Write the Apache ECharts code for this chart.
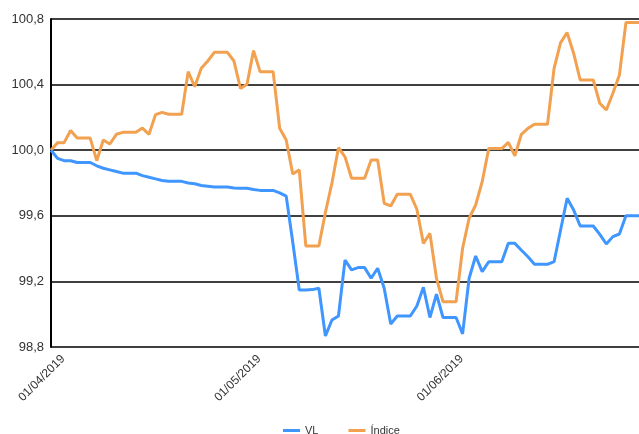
<!DOCTYPE html>
<html><head><meta charset="utf-8">
<script src="https://cdn.jsdelivr.net/npm/echarts@6/dist/echarts.min.js"></script>
<style>html,body{margin:0;padding:0;background:#fff}#c{width:639px;height:434px}</style>
</head><body><div id="c"></div>
<script>
const categories = [
"01/04/2019","02/04/2019","03/04/2019","04/04/2019","05/04/2019","06/04/2019","07/04/2019","08/04/2019","09/04/2019","10/04/2019",
"11/04/2019","12/04/2019","13/04/2019","14/04/2019","15/04/2019","16/04/2019","17/04/2019","18/04/2019","19/04/2019","20/04/2019",
"21/04/2019","22/04/2019","23/04/2019","24/04/2019","25/04/2019","26/04/2019","27/04/2019","28/04/2019","29/04/2019","30/04/2019",
"01/05/2019","02/05/2019","03/05/2019","04/05/2019","05/05/2019","06/05/2019","07/05/2019","08/05/2019","09/05/2019","10/05/2019",
"11/05/2019","12/05/2019","13/05/2019","14/05/2019","15/05/2019","16/05/2019","17/05/2019","18/05/2019","19/05/2019","20/05/2019",
"21/05/2019","22/05/2019","23/05/2019","24/05/2019","25/05/2019","26/05/2019","27/05/2019","28/05/2019","29/05/2019","30/05/2019",
"31/05/2019","01/06/2019","02/06/2019","03/06/2019","04/06/2019","05/06/2019","06/06/2019","07/06/2019","08/06/2019","09/06/2019",
"10/06/2019","11/06/2019","12/06/2019","13/06/2019","14/06/2019","15/06/2019","16/06/2019","17/06/2019","18/06/2019","19/06/2019",
"20/06/2019","21/06/2019","22/06/2019","23/06/2019","24/06/2019","25/06/2019","26/06/2019","27/06/2019","28/06/2019","29/06/2019",
"30/06/2019"];
const tickLabels = ["01/04/2019","01/05/2019","01/06/2019"];
const vl = [
100.0,99.95,99.936,99.936,99.925,99.925,99.925,99.905,99.89,99.88,
99.87,99.86,99.86,99.86,99.845,99.835,99.825,99.815,99.81,99.81,
99.81,99.80,99.795,99.785,99.78,99.775,99.775,99.775,99.77,99.768,
99.768,99.76,99.755,99.755,99.755,99.74,99.72,99.44,99.148,99.148,
99.15,99.158,98.867,98.965,98.989,99.33,99.27,99.284,99.284,99.219,
99.28,99.158,98.94,98.989,98.989,98.989,99.05,99.164,98.98,99.123,
98.98,98.98,98.98,98.88,99.219,99.355,99.26,99.32,99.32,99.32,
99.432,99.432,99.39,99.35,99.304,99.304,99.304,99.32,99.513,99.707,
99.635,99.538,99.538,99.538,99.487,99.428,99.473,99.489,99.60,99.60,
99.60];
const indice = [
100.0,100.046,100.046,100.12,100.074,100.074,100.074,99.936,100.062,100.038,
100.097,100.109,100.109,100.109,100.135,100.097,100.217,100.231,100.219,100.219,
100.219,100.479,100.387,100.499,100.544,100.597,100.597,100.597,100.544,100.377,
100.402,100.607,100.479,100.479,100.479,100.134,100.062,99.855,99.88,99.416,
99.416,99.416,99.62,99.80,100.015,99.96,99.829,99.829,99.829,99.94,
99.94,99.676,99.66,99.731,99.731,99.731,99.64,99.432,99.493,99.219,
99.076,99.076,99.076,99.402,99.585,99.666,99.808,100.01,100.01,100.01,
100.048,99.965,100.097,100.133,100.158,100.158,100.158,100.499,100.656,100.717,
100.59,100.428,100.428,100.428,100.286,100.245,100.347,100.459,100.778,100.778,
100.778];
const seriesNames = ["VL","Índice"];

const chart = echarts.init(document.getElementById('c'), null, {renderer:'canvas'});
chart.setOption({
  animation:false,
  backgroundColor:'#fff',
  textStyle:{fontFamily:'Liberation Sans'},
  grid:{left:51,right:0,top:19,bottom:87,containLabel:false},
  legend:{
    top:420,left:278,itemGap:30,itemWidth:17,itemHeight:3,
    icon:'rect',
    textStyle:{fontSize:11,color:'#333',fontFamily:'Liberation Sans'},
    data:seriesNames
  },
  xAxis:{
    type:'category',boundaryGap:false,data:categories,
    axisLine:{show:false},
    axisTick:{show:false},
    splitLine:{show:false},
    axisLabel:{
      rotate:45,fontSize:12,color:'#333',margin:-2,
      align:'right',verticalAlign:'top',lineHeight:14,padding:[10,0,0,0],
      interval:function(i,v){return tickLabels.indexOf(v)>=0;},
      formatter:function(v){return v;}
    }
  },
  yAxis:{
    type:'value',min:98.8,max:100.8,interval:0.4,
    axisLine:{show:true,lineStyle:{color:'#000',width:2}},
    axisTick:{show:false},
    splitLine:{show:true,lineStyle:{color:'#000',width:1.5}},
    axisLabel:{fontSize:13,color:'#333',margin:7,
      formatter:function(v){return v.toFixed(1).replace('.',',');}}
  },
  series:[
    {name:seriesNames[0],type:'line',data:vl,symbol:'none',
     lineStyle:{color:'#3f96ff',width:3},itemStyle:{color:'#3f96ff'},z:3},
    {name:seriesNames[1],type:'line',data:indice,symbol:'none',
     lineStyle:{color:'#f2a150',width:3},itemStyle:{color:'#f2a150'},z:2}
  ]
});
</script></body></html>
